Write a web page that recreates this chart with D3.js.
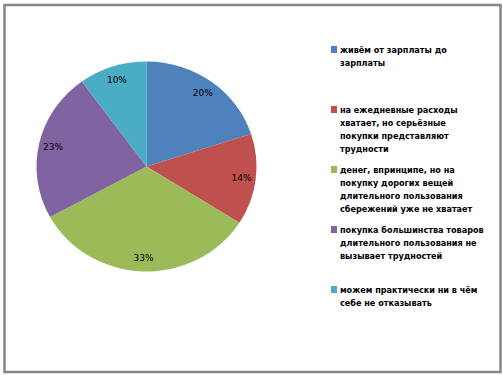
<!DOCTYPE html>
<html>

<head>
  <meta charset="utf-8">
  <script src="https://d3js.org/d3.v7.min.js"></script>
  <style>
    body {
      margin: 0;
      background: #fff;
    }

    .pct {
      font-family: 'DejaVu Sans', sans-serif;
      font-size: 9px;
      fill: #000;
    }

    .legend-text {
      font-family: 'DejaVu Sans Condensed', sans-serif;
      font-weight: bold;
      font-size: 9px;
      fill: #000;
    }
  </style>
</head>

<body>
  <div id="chart"></div>
  <script type="text/javascript">
    // categories (legend lines as in the picture)
    const categories = [
      ['живём от зарплаты до', 'зарплаты'],
      ['на ежедневные расходы', 'хватает, но серьёзные', 'покупки представляют', 'трудности'],
      ['денег, впринципе, но на', 'покупку дорогих вещей', 'длительного пользования', 'сбережений уже не хватает'],
      ['покупка большинства товаров', 'длительного пользования не', 'вызывает трудностей'],
      ['можем практически ни в чём', 'себе не отказывать']
    ];
    const values = [20, 14, 33, 23, 10];
    const colors = ['#4F81BD', '#C0504D', '#9BBB59', '#8064A2', '#4BACC6'];

    const width = 503,
      height = 375;

    const svg = d3.select('#chart')
      .append('svg')
      .attr('width', width)
      .attr('height', height);

    // outer frame
    svg.append('rect')
      .attr('x', 4.5)
      .attr('y', 5)
      .attr('width', 496)
      .attr('height', 367)
      .attr('fill', 'none')
      .attr('stroke', '#868686')
      .attr('stroke-width', 2.5);

    const cx = 146.5,
      cy = 166.5,
      r = 105,
      sx = 110 / 105;

    const pie = d3.pie().sort(null).value((d) => d);
    const arcs = pie(values);

    const arc = d3.arc().innerRadius(0).outerRadius(r);
    const labelArc = d3.arc().innerRadius(r * 0.87).outerRadius(r * 0.87);

    const g = svg.append('g')
      .attr('transform', `translate(${cx},${cy}) scale(${sx},1)`);

    g.selectAll('path')
      .data(arcs)
      .enter()
      .append('path')
      .attr('d', arc)
      .attr('fill', (d, i) => colors[i]);

    svg.append('g')
      .attr('transform', `translate(${cx},${cy})`)
      .selectAll('text')
      .data(arcs)
      .enter()
      .append('text')
      .attr('class', 'pct')
      .attr('x', (d) => labelArc.centroid(d)[0] * sx)
      .attr('y', (d) => labelArc.centroid(d)[1] + 3)
      .attr('text-anchor', 'middle')
      .text((d) => d.data + '%');

    // legend
    const legendY = d3.scaleLinear().domain([0, 1]).range([53, 113]);

    const item = svg.append('g')
      .selectAll('g')
      .data(categories)
      .enter()
      .append('g')
      .attr('transform', (d, i) => `translate(331,${legendY(i)})`);

    item.append('rect')
      .attr('x', 0)
      .attr('y', -7)
      .attr('width', 6)
      .attr('height', 7)
      .attr('fill', (d, i) => colors[i]);

    item.each(function (lines) {
      const t = d3.select(this).append('text')
        .attr('class', 'legend-text');
      lines.forEach((line, j) => {
        t.append('tspan')
          .attr('x', 9)
          .attr('y', j * 13)
          .text(line);
      });
    });
  </script>
</body>

</html>
